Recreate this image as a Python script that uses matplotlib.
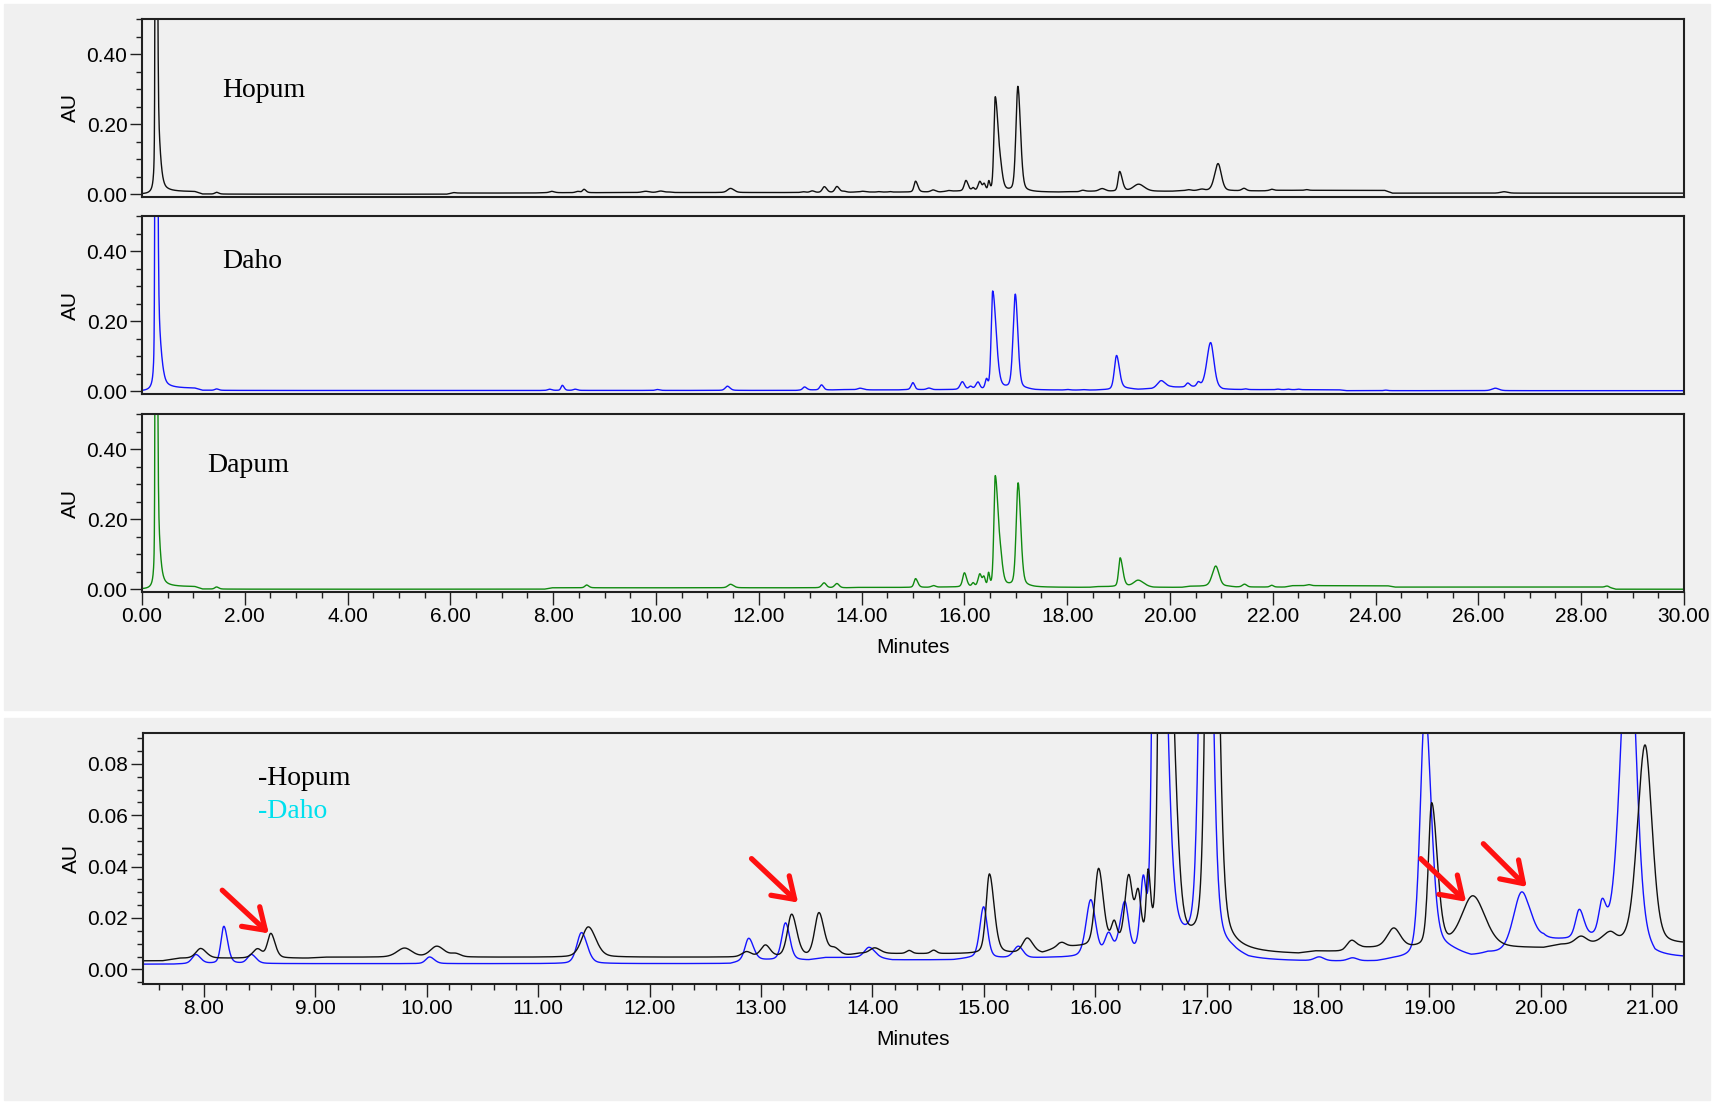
import numpy as np
import matplotlib.pyplot as plt
from matplotlib.patches import Rectangle
from matplotlib.ticker import MultipleLocator, FormatStrFormatter

# peak tables:
# (retention time min, height AU, half width left, half width right)
hopum_peaks = [
    (0.27, 3.0, 0.012, 0.022), (0.31, 0.10, 0.015, 0.06), (1.45, 0.005, 0.04, 0.05),
    (6.05, 0.0015, 0.05, 0.05), (7.97, 0.0038, 0.05, 0.06), (8.48, 0.0035, 0.05, 0.05),
    (8.60, 0.0095, 0.035, 0.045), (9.80, 0.0035, 0.08, 0.08), (10.09, 0.0042, 0.07, 0.08),
    (10.26, 0.0012, 0.05, 0.05), (11.45, 0.0118, 0.07, 0.08), (12.87, 0.002, 0.05, 0.05),
    (13.04, 0.0045, 0.05, 0.05), (13.275, 0.0165, 0.045, 0.055), (13.52, 0.0170, 0.045, 0.055),
    (13.66, 0.003, 0.05, 0.06), (14.02, 0.0022, 0.05, 0.06), (14.33, 0.0012, 0.03, 0.03),
    (14.55, 0.0013, 0.03, 0.03), (15.05, 0.031, 0.035, 0.05), (15.39, 0.0058, 0.05, 0.06),
    (15.70, 0.0015, 0.04, 0.04), (16.03, 0.030, 0.04, 0.05), (16.17, 0.008, 0.03, 0.03),
    (16.30, 0.026, 0.04, 0.04), (16.385, 0.018, 0.03, 0.03), (16.475, 0.025, 0.02, 0.025),
    (16.60, 0.27, 0.031, 0.07), (16.71, 0.03, 0.04, 0.05), (17.04, 0.30, 0.044, 0.06),
    (18.30, 0.0035, 0.05, 0.05), (18.68, 0.0075, 0.07, 0.07), (19.02, 0.056, 0.035, 0.06),
    (19.39, 0.020, 0.12, 0.13), (20.36, 0.003, 0.06, 0.06), (20.62, 0.004, 0.08, 0.06),
    (20.935, 0.078, 0.08, 0.075), (21.44, 0.007, 0.05, 0.05), (21.98, 0.003, 0.04, 0.04),
    (22.66, 0.002, 0.04, 0.04), (26.50, 0.004, 0.08, 0.08),
]
hopum_base_t = [0.0, 0.35, 1.1, 6.0, 7.7, 9.0, 13.8, 15.6, 16.5, 17.9, 18.3, 19.7, 20.1, 21.2, 21.9, 24.25]
hopum_base_v = [0.0, 0.007, 0.0, 0.0033, 0.0043, 0.0047, 0.0060, 0.0085, 0.0055, 0.0065, 0.0080,
                0.0080, 0.0092, 0.0093, 0.011, 0.003]

daho_peaks = [
    (0.27, 3.0, 0.014, 0.025), (0.32, 0.10, 0.015, 0.07), (1.45, 0.004, 0.04, 0.05),
    (7.927, 0.0035, 0.04, 0.05), (8.178, 0.0145, 0.03, 0.04), (8.424, 0.0035, 0.04, 0.05),
    (10.025, 0.0026, 0.04, 0.05), (11.389, 0.0121, 0.05, 0.06), (12.89, 0.0085, 0.04, 0.05),
    (13.22, 0.0145, 0.04, 0.045), (13.97, 0.004, 0.05, 0.06), (14.998, 0.020, 0.04, 0.04),
    (15.31, 0.0045, 0.05, 0.05), (15.96, 0.022, 0.05, 0.05), (16.12, 0.008, 0.04, 0.04),
    (16.265, 0.020, 0.05, 0.04), (16.43, 0.025, 0.03, 0.03), (16.55, 0.28, 0.034, 0.079),
    (16.99, 0.27, 0.05, 0.058), (18.01, 0.0015, 0.05, 0.05), (18.31, 0.0012, 0.05, 0.05),
    (18.96, 0.097, 0.05, 0.065), (19.10, 0.004, 0.1, 0.2), (19.83, 0.024, 0.09, 0.10),
    (20.345, 0.011, 0.04, 0.05), (20.55, 0.012, 0.035, 0.04), (20.79, 0.128, 0.085, 0.075),
    (21.47, 0.002, 0.04, 0.04), (22.10, 0.0015, 0.04, 0.04), (22.30, 0.0015, 0.04, 0.04),
    (22.50, 0.0015, 0.04, 0.04), (24.20, 0.0015, 0.04, 0.04), (26.33, 0.007, 0.08, 0.08),
]
daho_base_t = [0.0, 0.35, 1.1, 7.8, 12.8, 13.5, 14.1, 14.8, 15.5, 17.3, 18.6, 19.45, 19.95, 20.95, 23.35]
daho_base_v = [0.0, 0.008, 0.002, 0.0022, 0.0035, 0.0045, 0.0036, 0.0042, 0.0043, 0.0027, 0.0035,
               0.0055, 0.0105, 0.0042, 0.0015]

dapum_peaks = [
    (0.27, 3.0, 0.012, 0.022), (0.30, 0.10, 0.015, 0.06), (1.45, 0.006, 0.04, 0.05),
    (8.65, 0.008, 0.04, 0.05), (11.45, 0.010, 0.06, 0.07), (13.27, 0.014, 0.05, 0.05),
    (13.52, 0.012, 0.05, 0.05), (15.05, 0.025, 0.035, 0.05), (15.40, 0.005, 0.05, 0.05),
    (16.00, 0.040, 0.04, 0.05), (16.17, 0.010, 0.03, 0.03), (16.30, 0.035, 0.04, 0.04),
    (16.38, 0.025, 0.03, 0.03), (16.47, 0.035, 0.02, 0.025), (16.60, 0.315, 0.031, 0.07),
    (16.71, 0.04, 0.04, 0.05), (17.045, 0.295, 0.044, 0.06), (19.03, 0.082, 0.035, 0.06),
    (19.38, 0.018, 0.10, 0.12), (20.89, 0.058, 0.08, 0.075), (21.45, 0.008, 0.05, 0.05),
    (21.98, 0.005, 0.04, 0.04), (22.70, 0.003, 0.05, 0.05), (28.50, 0.003, 0.04, 0.04),
]
dapum_base_t = [0.0, 0.35, 1.1, 7.9, 13.8, 15.5, 17.3, 18.5, 19.6, 20.3, 21.2, 22.3, 24.3, 28.6]
dapum_base_v = [0.0, 0.007, 0.0, 0.004, 0.005, 0.006, 0.005, 0.007, 0.005, 0.008, 0.006, 0.010, 0.006, 0.0]

# red arrows in the zoomed panel: tail and tip (min, AU)
arrow_tail_x = [8.164, 12.915, 18.922, 19.484]
arrow_tail_y = [0.0308, 0.0431, 0.0431, 0.0489]
arrow_tip_x = [8.582, 13.333, 19.329, 19.873]
arrow_tip_y = [0.0140, 0.0260, 0.0263, 0.0321]

top_names = ['Hopum', 'Daho', 'Dapum']
top_colors = ['#101010', '#1414ff', '#108a10']


def baseline(t, starts, levels):
    idx = np.searchsorted(starts, t, side='right') - 1
    b = np.asarray(levels)[idx]
    k = 30
    b = np.convolve(np.pad(b, k, mode='edge'), np.ones(k) / k, mode='same')[k:-k]
    return b


def trace(t, peaks, starts, levels, eta=0.3):
    y = baseline(t, starts, levels)
    for rt, h, wl, wr in peaks:
        x = (t - rt) / np.where(t < rt, wl, wr)
        y = y + h * (eta / (1 + x ** 2) + (1 - eta) * np.exp(-np.log(2) * x ** 2))
    return y


t = np.arange(0, 30.0001, 0.005)
hopum = trace(t, hopum_peaks, hopum_base_t, hopum_base_v)
daho = trace(t, daho_peaks, daho_base_t, daho_base_v)
dapum = trace(t, dapum_peaks, dapum_base_t, dapum_base_v)

plt.rcParams['font.family'] = 'Liberation Sans'
W, H = 1715, 1102
fig = plt.figure(figsize=(W / 100, H / 100), dpi=100)
bg = '#f0f0f0'
fig.patches.append(Rectangle((4 / W, 1 - 710 / H), 1706 / W, 706 / H,
                             transform=fig.transFigure, color=bg, zorder=-10))
fig.patches.append(Rectangle((4 / W, 1 - 1100 / H), 1706 / W, 382 / H,
                             transform=fig.transFigure, color=bg, zorder=-10))


def style(ax):
    ax.set_facecolor(bg)
    for s in ax.spines.values():
        s.set_linewidth(1.5)
        s.set_color('#202020')
    ax.tick_params(which='both', direction='out', top=False, right=False,
                   labelsize=15, width=1.0, color='#202020')
    ax.tick_params(which='major', length=9, pad=1.5)
    ax.tick_params(which='minor', length=4.5)
    ax.yaxis.set_major_formatter(FormatStrFormatter('%.2f'))
    ax.xaxis.set_major_formatter(FormatStrFormatter('%.2f'))


traces = [hopum, daho, dapum]
label_pos = [(0.052, 0.5635), (0.052, 0.706), (0.0422, 0.676)]
tops = [197, 394, 592]
for i in range(3):
    ax = fig.add_axes([142 / W, 1 - tops[i] / H, 1542 / W, 178 / H])
    style(ax)
    ax.plot(t, traces[i], color=top_colors[i], lw=1.0)
    ax.set_xlim(0, 30)
    ax.set_ylim(-0.008, 0.5)
    ax.yaxis.set_major_locator(MultipleLocator(0.2))
    ax.yaxis.set_minor_locator(MultipleLocator(0.05))
    ax.xaxis.set_major_locator(MultipleLocator(2))
    ax.xaxis.set_minor_locator(MultipleLocator(0.5))
    ax.set_ylabel('AU', fontsize=15)
    ax.yaxis.set_label_coords(-0.040, 0.5)
    ax.text(label_pos[i][0], label_pos[i][1], top_names[i], transform=ax.transAxes,
            family='Liberation Serif', fontsize=20, va='baseline', ha='left')
    if i < 2:
        ax.tick_params(axis='x', which='both', bottom=False, labelbottom=False)
    else:
        ax.set_xlabel('Minutes', fontsize=15, labelpad=9)

ax = fig.add_axes([142.6 / W, 1 - 984 / H, 1541.4 / W, 251 / H])
style(ax)
ax.plot(t, daho, color='#1414ff', lw=1.0)
ax.plot(t, hopum, color='#101010', lw=1.0)
ax.set_xlim(7.449, 21.285)
ax.set_ylim(-0.0057, 0.092)
ax.xaxis.set_major_locator(MultipleLocator(1))
ax.xaxis.set_minor_locator(MultipleLocator(0.2))
ax.yaxis.set_major_locator(MultipleLocator(0.02))
ax.yaxis.set_minor_locator(MultipleLocator(0.005))
ax.set_ylabel('AU', fontsize=15)
ax.yaxis.set_label_coords(-0.040, 0.5)
ax.set_xlabel('Minutes', fontsize=15, labelpad=9)
ax.text(0.0749, 0.793, '-Hopum', transform=ax.transAxes, family='Liberation Serif',
        fontsize=20, va='baseline', ha='left', color='black')
ax.text(0.0749, 0.661, '-Daho', transform=ax.transAxes, family='Liberation Serif',
        fontsize=20, va='baseline', ha='left', color='#00e0ee')
for x0, y0, x1, y1 in zip(arrow_tail_x, arrow_tail_y, arrow_tip_x, arrow_tip_y):
    ax.annotate('', xy=(x1, y1), xytext=(x0, y0),
                arrowprops=dict(arrowstyle='->,head_length=0.6,head_width=0.4',
                                color='#ff1010', lw=3.8, mutation_scale=24,
                                shrinkA=0, shrinkB=0))

fig.savefig('out.png', dpi=100)
